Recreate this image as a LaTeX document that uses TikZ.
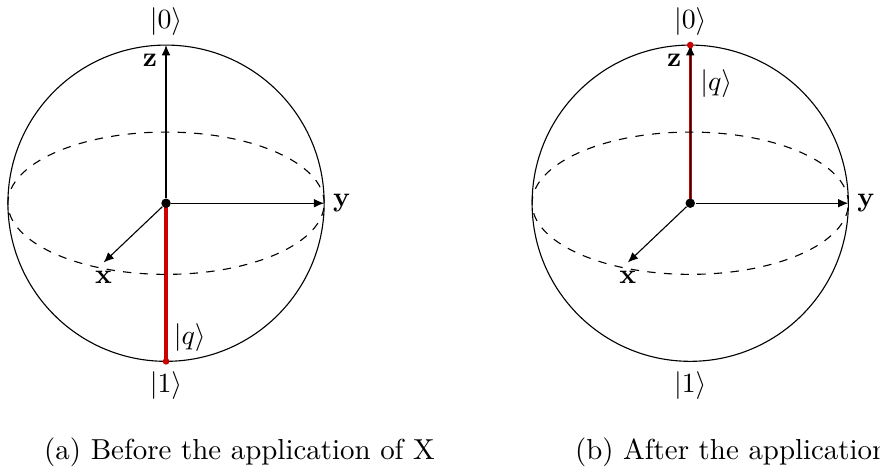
\documentclass[tikz,border=0pt]{standalone}
\usepackage{amsmath,amssymb}
\usepackage{xcolor}
\usetikzlibrary{arrows.meta, positioning, calc}

\definecolor{qred}{RGB}{204,0,0}

\begin{document}
\begin{tikzpicture}[
    arrow/.style={-{Latex[length=1.3mm, width=1.1mm]}},
    vec/.style={draw=qred, line width=1.2pt},
    origin/.style={circle, fill=black, inner sep=0pt, minimum size=3.4pt},
    tip/.style={circle, fill=qred, inner sep=0pt, minimum size=2.4pt},
    axlabel/.style={inner sep=3pt},
    caption/.style={align=center, font=\fontsize{10.4pt}{12pt}\selectfont}
]
\clip (-2.10,-3.45) rectangle (9.03,2.57);

% (a) before X
\begin{scope}
\coordinate (za) at (0,2);
\coordinate (ya) at (2,0);
\coordinate (xa) at (-0.79,-0.75);
\coordinate (sa) at (0,-2);
\draw (0,0) circle (2cm);
\draw[vec] (0,0) -- (sa);
\draw[dashed] (0,0) ellipse (2cm and 0.9cm);
\node[origin] (oa) at (0,0) {};
\draw[arrow] (oa) -- (za);
\draw[arrow] (oa) -- (ya);
\draw[arrow] (oa) -- (xa);
\node[tip] (ta) at (sa) {};
\node[axlabel, below left=0pt of za] (zla) {$\mathbf{z}$};
\node[axlabel, right=0pt of ya] (yla) {$\mathbf{y}$};
\node[axlabel, below=0pt of xa] (xla) {$\mathbf{x}$};
\node[above=0pt of za] (k0a) {$|0\rangle$};
\node[below=0pt of sa] (k1a) {$|1\rangle$};
\node (qa) at (0.30,-1.70) {$|q\rangle$};
\node[caption] (capa) at (0.93,-3.15) {(a) Before the application of X};
\end{scope}

% (b) after X
\begin{scope}[xshift=6.63cm]
\coordinate (zb) at (0,2);
\coordinate (yb) at (2,0);
\coordinate (xb) at (-0.79,-0.75);
\coordinate (bb) at (0,-2);
\draw (0,0) circle (2cm);
\draw[vec] (0,0) -- (zb);
\draw[dashed] (0,0) ellipse (2cm and 0.9cm);
\node[origin] (ob) at (0,0) {};
\draw[arrow] (ob) -- (zb);
\draw[arrow] (ob) -- (yb);
\draw[arrow] (ob) -- (xb);
\node[tip] (tb) at (zb) {};
\node[axlabel, below left=0pt of zb] (zlb) {$\mathbf{z}$};
\node[axlabel, right=0pt of yb] (ylb) {$\mathbf{y}$};
\node[axlabel, below=0pt of xb] (xlb) {$\mathbf{x}$};
\node[above=0pt of zb] (k0b) {$|0\rangle$};
\node[below=0pt of bb] (k1b) {$|1\rangle$};
\node (qb) at (0.33,1.51) {$|q\rangle$};
\node[caption] (capb) at (0.93,-3.15) {(b) After the application of X};
\end{scope}
\end{tikzpicture}
\end{document}
